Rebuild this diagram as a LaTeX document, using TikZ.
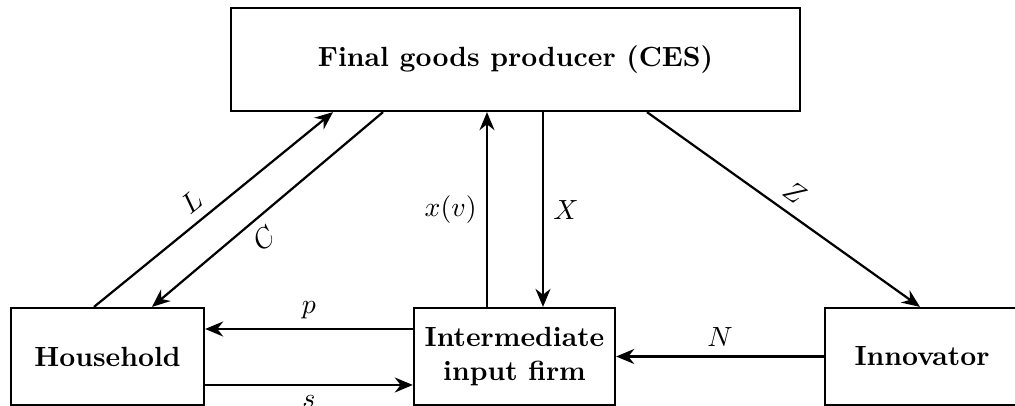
\documentclass[tikz,border=0pt]{standalone}
\usetikzlibrary{arrows.meta}
\begin{document}
\begin{tikzpicture}[x=0.36pt,y=-0.36pt,
  box/.style={draw,thick,inner sep=0pt,font=\bfseries,align=center},
  arr/.style={thick,-{Stealth[length=6.5pt,width=5.4pt]}},
  plain/.style={thick}]
\useasboundingbox (0,0) rectangle (1015,406);
\node[box,minimum width=204.8pt,minimum height=37.1pt] (F) at (515.5,59.5) {Final goods producer (CES)};
\node[box,minimum width=69.5pt,minimum height=34.9pt] (H) at (107.5,356.5) {Household};
\node[box,minimum width=72.4pt,minimum height=34.9pt] (I) at (514.5,356.5) {Intermediate\\input firm};
\node[box,minimum width=69.8pt,minimum height=34.9pt] (N) at (922,356.5) {Innovator};
% Household <-> Final
\draw[arr] (H.north -| 94,0) -- node[pos=0.46,above,sloped] {$L$} (F.south -| 333,0);
\draw[arr] (F.south -| 383,0) -- node[pos=0.57,below,sloped] {$C$} (H.north -| 152,0);
% Intermediate <-> Final
\draw[arr] (I.north -| 487,0) -- node[left] {$x(v)$} (F.south -| 487,0);
\draw[arr] (F.south -| 543,0) -- node[right] {$X$} (I.north -| 543,0);
% Final -> Innovator
\draw[arr] (F.south -| 647,0) -- node[pos=0.5,above,sloped] {$Z$} (N.north -| 920,0);
% Intermediate <-> Household
\draw[arr] (I.west |- 0,329) -- node[above] {$p$} (H.east |- 0,329);
\draw[arr] (H.east |- 0,385) -- node[below] {$s$} (I.west |- 0,385);
% Innovator -> Intermediate
\draw[arr] (N.west) -- node[above] {$N$} (I.east);
\end{tikzpicture}
\end{document}
